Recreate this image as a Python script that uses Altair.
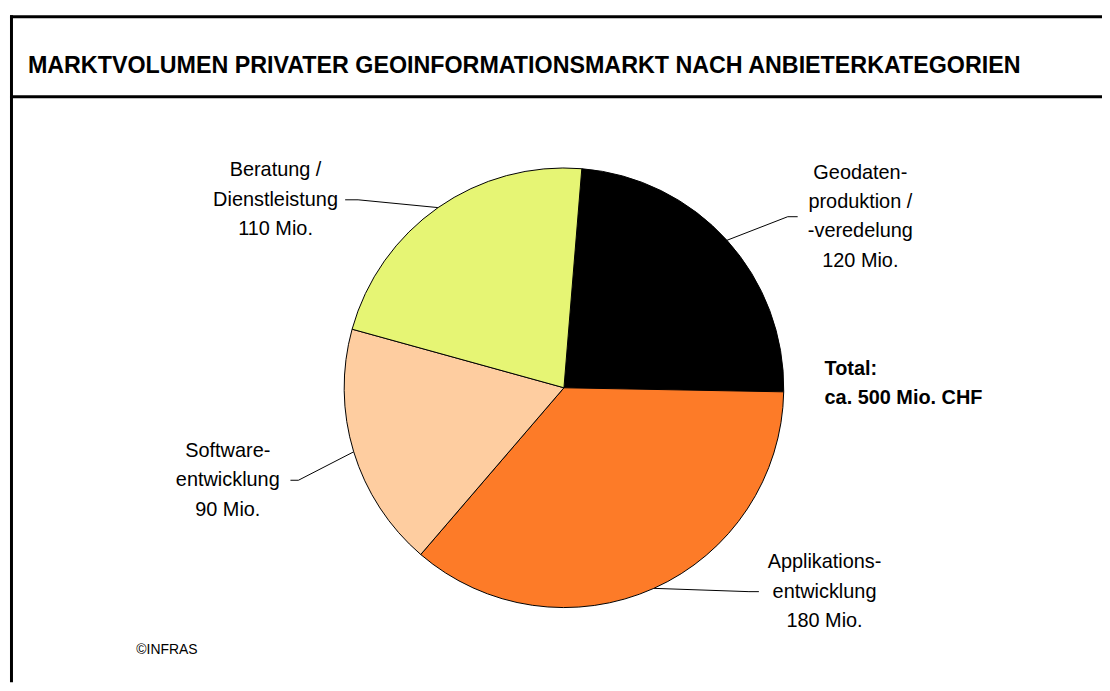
import math
import altair as alt
import pandas as pd

# ---------------- data ----------------
categories = [
    "Geodatenproduktion / -veredelung",
    "Applikationsentwicklung",
    "Softwareentwicklung",
    "Beratung / Dienstleistung",
]
values = [120, 180, 90, 110]
label_lines = [
    ["Geodaten-", "produktion /", "-veredelung", "120 Mio."],
    ["Applikations-", "entwicklung", "180 Mio."],
    ["Software-", "entwicklung", "90 Mio."],
    ["Beratung /", "Dienstleistung", "110 Mio."],
]
colors = ["#000000", "#FD7B28", "#FECDA0", "#E6F574"]
title_text = "MARKTVOLUMEN PRIVATER GEOINFORMATIONSMARKT NACH ANBIETERKATEGORIEN"
total_lines = ["Total:", "ca. 500 Mio. CHF"]
credit_text = "©INFRAS"

# ---------------- layout (page pixels) ----------------
M = 8                      # page margin
W, H = 1100, 676           # chart size
CX, CY, R = 567, 388, 221  # pie centre / radius
START_DEG = 4.66           # first slice starts slightly right of 12 o'clock
LH = 29.5                  # label line height
label_pos = [(865, 216), (829, 593), (229, 481), (277, 199)]   # block centres
leader_end = [(802, 216), (763, 593), (292, 481), (347, 199)]
leader_elbow = [(792, 216), (753, 593), (300, 481), (360, 199)]

FONT = "Liberation Sans"

# ---------------- derived tables ----------------
total = sum(values)
pie_df = pd.DataFrame({"category": categories, "value": values, "idx": range(len(values))})

lead_rows = []
cum = 0
for i, (cat, v) in enumerate(zip(categories, values)):
    mid = math.radians(START_DEG + (cum + v / 2) / total * 360)
    cum += v
    ax = CX + R * math.sin(mid)
    ay = CY - R * math.cos(mid)
    pts = [(ax, ay), leader_elbow[i], leader_end[i]]
    for k, (px, py) in enumerate(pts):
        lead_rows.append({"category": cat, "k": k, "px": px - M, "py": py - M})
lead_df = pd.DataFrame(lead_rows)

lab_df = pd.DataFrame({
    "category": categories,
    "text": ["\n".join(l) for l in label_lines],
    "px": [p[0] - M for p in label_pos],
    # Vega anchors the first line at y: shift so the block is centred
    "py": [p[1] - M - (len(l) - 1) * LH / 2 for p, l in zip(label_pos, label_lines)],
})

xs = alt.Scale(domain=[0, W], range=[0, W], zero=False, nice=False)
ys = alt.Scale(domain=[0, H], range=[0, H], zero=False, nice=False)

# ---------------- layers ----------------
r0 = math.radians(START_DEG)
pie = alt.Chart(pie_df).mark_arc(stroke="black", strokeWidth=1).encode(
    theta=alt.Theta("value:Q", stack=True, scale=alt.Scale(range=[r0, r0 + 2 * math.pi])),
    color=alt.Color("category:N", scale=alt.Scale(domain=categories, range=colors), legend=None),
    order=alt.Order("idx:Q"),
    x=alt.value(CX - M),
    y=alt.value(CY - M),
    radius=alt.value(R),
)

leaders = alt.Chart(lead_df).mark_line(color="black", strokeWidth=1).encode(
    x=alt.X("px:Q", scale=xs, axis=None),
    y=alt.Y("py:Q", scale=ys, axis=None),
    detail="category:N",
    order="k:Q",
)

labels = alt.Chart(lab_df).mark_text(
    font=FONT, fontSize=20, align="center", baseline="middle",
    lineBreak="\n", lineHeight=LH, color="black",
).encode(
    x=alt.X("px:Q", scale=xs, axis=None),
    y=alt.Y("py:Q", scale=ys, axis=None),
    text="text:N",
)

title = alt.Chart(pd.DataFrame({"t": [title_text]})).mark_text(
    font=FONT, fontSize=23.4, fontWeight="bold", align="left",
    baseline="alphabetic", color="black",
).encode(x=alt.value(28 - M), y=alt.value(72 - M), text="t:N")

total_txt = alt.Chart(pd.DataFrame({"t": ["\n".join(total_lines)]})).mark_text(
    font=FONT, fontSize=20, fontWeight="bold", align="left", baseline="middle",
    lineBreak="\n", lineHeight=29, color="black",
).encode(x=alt.value(829 - M), y=alt.value(369 - M), text="t:N")

credit = alt.Chart(pd.DataFrame({"t": [credit_text]})).mark_text(
    font=FONT, fontSize=14, align="left", baseline="middle", color="black",
).encode(x=alt.value(137 - M), y=alt.value(652 - M), text="t:N")

one = pd.DataFrame({"a": [0]})
frame_left = alt.Chart(one).mark_rule(color="black", strokeWidth=3).encode(
    x=alt.value(11.5 - M), x2=alt.value(11.5 - M), y=alt.value(13.5 - M), y2=alt.value(H)
)
frame_top = alt.Chart(one).mark_rule(color="black", strokeWidth=3).encode(
    x=alt.value(10 - M), x2=alt.value(W), y=alt.value(15 - M), y2=alt.value(15 - M)
)
frame_mid = alt.Chart(one).mark_rule(color="black", strokeWidth=3).encode(
    x=alt.value(10 - M), x2=alt.value(W), y=alt.value(95.5 - M), y2=alt.value(95.5 - M)
)

chart = alt.layer(
    frame_left, frame_top, frame_mid, title, leaders, pie, labels, total_txt, credit
).properties(
    width=W, height=H, padding=0, autosize="none", background="white"
).configure_view(stroke=None)

chart.save("out.html", embed_options={"renderer": "svg", "actions": False})
